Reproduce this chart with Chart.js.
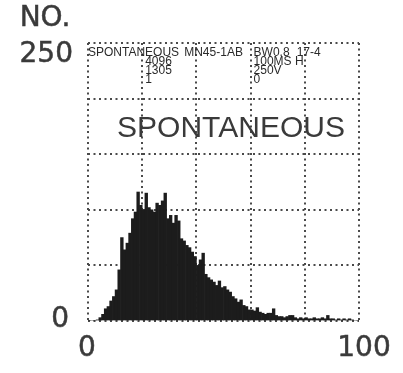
<!DOCTYPE html>
<html>
<head>
<meta charset="utf-8">
<script src="https://cdn.jsdelivr.net/npm/chart.js@4"></script>
<style>
  html, body { margin: 0; padding: 0; background: #fff; }
  #wrap { width: 403px; height: 373px; }
</style>
</head>
<body>
<div id="wrap"><canvas id="hist-chart" width="403" height="373"></canvas></div>
<script>
// channel counts, one bin per unit from 0 to 100
const counts = [
  0, 0, 0, 1, 3, 6, 11, 13, 18, 22,
  28, 46, 75, 64, 70, 79, 92, 98, 116, 104,
  100, 115, 102, 100, 98, 106, 104, 108, 115, 92,
  95, 88, 95, 90, 74, 72, 68, 66, 62, 58,
  50, 55, 61, 42, 39, 37, 35, 32, 36, 30,
  31, 28, 26, 22, 20, 17, 19, 14, 13, 10,
  10, 9, 12, 8, 7, 6, 7, 7, 11, 5,
  4, 4, 3, 4, 5, 5, 3, 2, 3, 2,
  3, 2, 2, 3, 2, 2, 3, 2, 5, 2,
  2, 1, 2, 1, 2, 1, 2, 1, 0, 0
];
const xTickLabels = ["0", "100"];
const yTickLabels = ["0", "250"];
const yTitle = "NO.";
const plotTitle = "SPONTANEOUS";

// printer header block, one entry per line of each column
const headerCol0 = ["SPONTANEOUS"];
const headerCol1 = ["MN45-1AB", "4096", "1305", "1"];
const headerCol3 = ["BW0.8", "100MS H", "250V", "0"];
const headerCol4 = ["17-4"];

const ink = "#2a2a2a";
const dotColor = "#4a4a4a";

const points = counts.map((c, i) => ({ x: i + 0.5, y: c }));

function boldText(ctx, t, px, py) {
  ctx.fillText(t, px, py);
  ctx.strokeText(t, px, py);
}

// labels and the printed header are plain canvas text
const textPlugin = {
  id: "printText",
  afterDraw(chart) {
    const { ctx, chartArea: a, scales: { x, y } } = chart;
    ctx.save();
    ctx.fillStyle = "#3a3a3a";
    ctx.strokeStyle = "#3a3a3a";
    ctx.lineWidth = 0.5;
    ctx.font = "28px 'DejaVu Sans'";
    ctx.textBaseline = "middle";

    ctx.textAlign = "center";
    boldText(ctx, yTitle, 45, 19);
    ctx.textAlign = "right";
    boldText(ctx, yTickLabels[1], a.left - 15, y.getPixelForValue(250) + 12);
    boldText(ctx, yTickLabels[0], a.left - 19, y.getPixelForValue(0) - 1);
    ctx.textAlign = "center";
    boldText(ctx, xTickLabels[0], x.getPixelForValue(0) - 1, a.bottom + 28);
    boldText(ctx, xTickLabels[1], x.getPixelForValue(100) + 5, a.bottom + 28);

    // big title inside the second row of cells
    ctx.fillStyle = "#3a3a3a";
    ctx.font = "30px 'Liberation Sans'";
    ctx.textBaseline = "alphabetic";
    ctx.textAlign = "center";
    ctx.fillText(plotTitle, 231, y.getPixelForValue(175) + 11);

    // header lines
    ctx.font = "12px 'Liberation Sans'";
    ctx.textAlign = "left";
    ctx.fillStyle = ink;
    const top = a.top + 13;
    const lh = 9;
    headerCol0.forEach((t, i) => ctx.fillText(t, x.getPixelForValue(0), top + i * lh));
    ctx.fillText(headerCol1[0], x.getPixelForValue(35.5), top);
    headerCol1.slice(1).forEach((t, i) => ctx.fillText(t, x.getPixelForValue(20) + 3, top + (i + 1) * lh));
    headerCol3.forEach((t, i) => ctx.fillText(t, x.getPixelForValue(60) + 3, top + i * lh));
    headerCol4.forEach((t, i) => ctx.fillText(t, x.getPixelForValue(77), top + i * lh));
    ctx.restore();
  }
};

new Chart(document.getElementById("hist-chart"), {
  type: "bar",
  data: {
    datasets: [
      {
        data: points,
        backgroundColor: "#1c1c1c",
        borderWidth: 0,
        barPercentage: 1,
        categoryPercentage: 1,
      },
    ],
  },
  options: {
    responsive: false,
    animation: false,
    layout: { padding: { left: 88, right: 44, top: 43, bottom: 52 } },
    plugins: {
      legend: { display: false },
      tooltip: { enabled: false },
    },
    scales: {
      x: {
        type: "linear",
        min: 0,
        max: 100,
        offset: false,
        ticks: { display: false, stepSize: 20 },
        grid: { color: dotColor, lineWidth: 2, drawTicks: false, offset: false },
        border: { display: false, dash: [2, 3.5] },
      },
      y: {
        min: 0,
        max: 250,
        ticks: { display: false, stepSize: 50 },
        grid: { color: dotColor, lineWidth: 2, drawTicks: false },
        border: { display: false, dash: [2, 3.5] },
      },
    },
  },
  plugins: [textPlugin],
});
</script>
</body>
</html>
